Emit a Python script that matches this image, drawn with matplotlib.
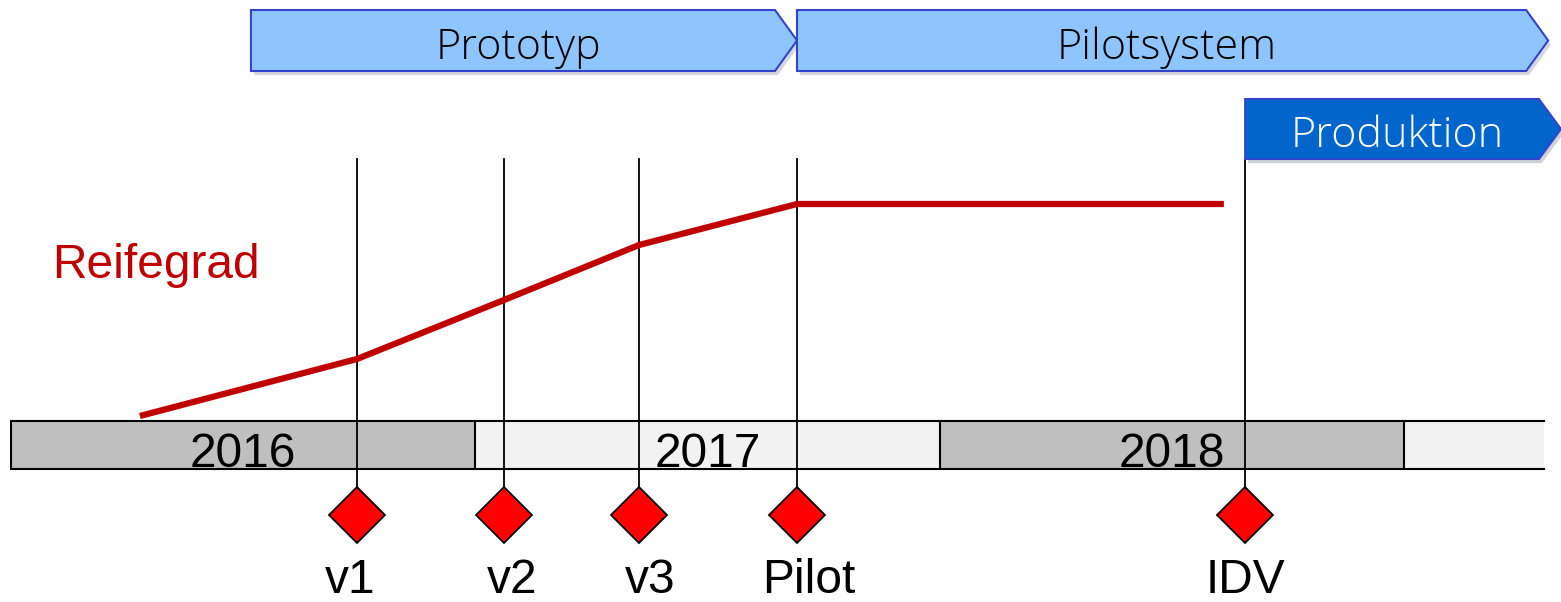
import matplotlib.pyplot as plt
from matplotlib.patches import Polygon, Rectangle
import matplotlib.patheffects as pe

# time axis in months since Jan 2016
years = ["2016", "2017", "2018", ""]
year_start = [0, 12, 24, 36]
year_len = [12, 12, 12, 3.6]
year_colors = ["#BFBFBF", "#F2F2F2", "#BFBFBF", "#F2F2F2"]

milestones = ["v1", "v2", "v3", "Pilot", "IDV"]
milestone_month = [8.94, 12.74, 16.23, 20.31, 31.89]

# Reifegrad curve
reife_month = [3.33, 8.94, 12.74, 16.23, 20.31, 31.34]
reife_value = [5, 62, 121, 176, 217, 217]

phases = ["Prototyp", "Pilotsystem", "Produktion"]
phase_start = [6.2, 20.31, 31.89]
phase_end = [20.31, 39.72, 40.05]

PX = 38.7  # pixels per month
fig = plt.figure(figsize=(15.61, 6.02), dpi=100)
ax = fig.add_axes([0, 0, 1, 1])
ax.set_xlim(-11 / PX, (1561 - 11) / PX)
ax.set_ylim(-181, 421)
ax.set_axis_off()

FS = 34.5

# year bar
bar_h = 48
for name, s, w, c in zip(years, year_start, year_len, year_colors):
    ax.add_patch(Rectangle((s, -bar_h), w, bar_h, facecolor=c, edgecolor="none", zorder=1))
    if name:
        ax.text(s + w / 2, -46, name, ha="center", va="baseline",
                fontsize=FS, family="Liberation Sans", zorder=3)
x_end = year_start[-1] + year_len[-1]
ax.plot([0, x_end], [0, 0], color="black", lw=1.5, zorder=2)
ax.plot([0, x_end], [-bar_h, -bar_h], color="black", lw=1.5, zorder=2)
for s in year_start:
    ax.plot([s, s], [-bar_h, 0], color="black", lw=1.5, zorder=2)

# milestone lines, diamonds, labels
label_shift = [-7, 8, 11, 12, 0]  # pixel offsets of the label boxes
for name, m, dx in zip(milestones, milestone_month, label_shift):
    ax.plot([m, m], [262, -70], color="black", lw=1.3, zorder=2)
    ax.plot(m, -94, marker="D", markersize=29, markerfacecolor="#FF0000",
            markeredgecolor="black", markeredgewidth=1.3, zorder=4)
    ax.text(m + dx / PX, -172, name, ha="center", va="baseline", fontsize=FS,
            family="Liberation Sans")

# Reifegrad
ax.plot(reife_month, reife_value, color="#C00000", lw=4.5, zorder=3,
        solid_capstyle="butt")
ax.text(1.06, 156, "Reifegrad", ha="left", va="center", fontsize=FS,
        color="#C00000", family="Liberation Sans")

# phase chevrons
tip = 22 / PX
rows = [(350, 411), (350, 411), (262, 322)]
faces = ["#8EC5FF", "#8EC5FF", "#0066CC"]
txt_colors = ["black", "black", "white"]
shadow = [pe.SimplePatchShadow(offset=(2, -3), alpha=0.2), pe.Normal()]
for name, s, e, (y0, y1), fc, tc in zip(phases, phase_start, phase_end, rows, faces, txt_colors):
    pts = [(s, y0), (e - tip, y0), (e, (y0 + y1) / 2), (e - tip, y1), (s, y1)]
    poly = Polygon(pts, closed=True, facecolor=fc, edgecolor="#3344CC", lw=1.5, zorder=5)
    poly.set_path_effects(shadow)
    ax.add_patch(poly)
    ax.text((s + e - tip) / 2 + 5 / PX, (y0 + y1) / 2 - 7, name, ha="center", va="center",
            fontsize=31, color=tc, family="Open Sans", fontweight="light", zorder=6)

fig.savefig("out.png", dpi=100)
